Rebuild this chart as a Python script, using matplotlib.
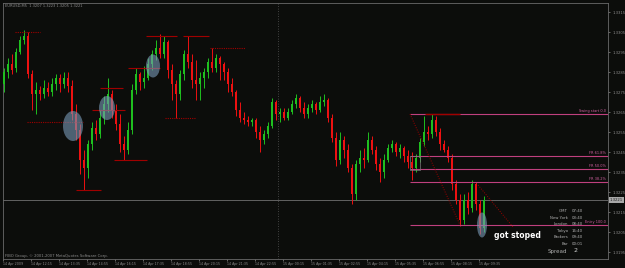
#EURUSD M5 chart with fibo levels

import matplotlib
matplotlib.use("Agg")
from matplotlib import pyplot as plt
from matplotlib.patches import Ellipse, Rectangle
import numpy as np

opens = [1.3279, 1.3285, 1.3289, 1.3287, 1.3295, 1.3301, 1.3303, 1.3284, 1.3274, 1.3276,
         1.3274, 1.3277, 1.3275, 1.3279, 1.3282, 1.3279, 1.3282, 1.3278, 1.3264, 1.3256,
         1.3241, 1.3237, 1.3249, 1.3257, 1.3254, 1.3262, 1.3269, 1.3274, 1.3266, 1.3259,
         1.3249, 1.3246, 1.3256, 1.3276, 1.3284, 1.3280, 1.3282, 1.3289, 1.3294, 1.3297,
         1.3294, 1.3300, 1.3286, 1.3279, 1.3274, 1.3284, 1.3294, 1.3290, 1.3281, 1.3279,
         1.3282, 1.3285, 1.3290, 1.3287, 1.3292, 1.3289, 1.3285, 1.3279, 1.3275, 1.3266,
         1.3262, 1.3261, 1.3260, 1.3261, 1.3255, 1.3251, 1.3254, 1.3258, 1.3270, 1.3264,
         1.3265, 1.3262, 1.3265, 1.3269, 1.3272, 1.3267, 1.3264, 1.3267, 1.3269, 1.3266,
         1.3270, 1.3271, 1.3262, 1.3252, 1.3241, 1.3251, 1.3246, 1.3237, 1.3224, 1.3239,
         1.3242, 1.3241, 1.3251, 1.3246, 1.3239, 1.3235, 1.3241, 1.3247, 1.3249, 1.3245,
         1.3247, 1.3243, 1.3240, 1.3237, 1.3242, 1.3250, 1.3255, 1.3254, 1.3261, 1.3255,
         1.3249, 1.3246, 1.3242, 1.3229, 1.3221, 1.3211, 1.3221, 1.3217, 1.3229, 1.3219,
         1.3207]
highs = [1.3287, 1.3292, 1.3294, 1.3297, 1.3303, 1.3306, 1.3305, 1.3286, 1.3280, 1.3278,
         1.3281, 1.3280, 1.3282, 1.3284, 1.3284, 1.3285, 1.3285, 1.3281, 1.3269, 1.3259,
         1.3246, 1.3251, 1.3260, 1.3261, 1.3266, 1.3273, 1.3282, 1.3276, 1.3269, 1.3264,
         1.3253, 1.3260, 1.3279, 1.3287, 1.3285, 1.3288, 1.3292, 1.3296, 1.3301, 1.3304,
         1.3303, 1.3301, 1.3289, 1.3281, 1.3286, 1.3296, 1.3303, 1.3294, 1.3291, 1.3285,
         1.3287, 1.3292, 1.3297, 1.3294, 1.3293, 1.3290, 1.3287, 1.3282, 1.3276, 1.3270,
         1.3265, 1.3263, 1.3262, 1.3262, 1.3258, 1.3256, 1.3260, 1.3272, 1.3271, 1.3267,
         1.3267, 1.3267, 1.3271, 1.3274, 1.3273, 1.3270, 1.3269, 1.3271, 1.3270, 1.3273,
         1.3274, 1.3272, 1.3264, 1.3255, 1.3255, 1.3253, 1.3249, 1.3239, 1.3241, 1.3246,
         1.3247, 1.3255, 1.3253, 1.3248, 1.3242, 1.3244, 1.3249, 1.3251, 1.3250, 1.3249,
         1.3248, 1.3246, 1.3245, 1.3244, 1.3252, 1.3263, 1.3258, 1.3264, 1.3263, 1.3257,
         1.3251, 1.3248, 1.3244, 1.3231, 1.3224, 1.3224, 1.3225, 1.3231, 1.3230, 1.3221,
         1.3223]
lows = [1.3275, 1.3282, 1.3284, 1.3285, 1.3294, 1.3299, 1.3282, 1.3266, 1.3264, 1.3271,
        1.3272, 1.3273, 1.3273, 1.3276, 1.3275, 1.3277, 1.3275, 1.3261, 1.3251, 1.3234,
        1.3226, 1.3232, 1.3246, 1.3251, 1.3252, 1.3259, 1.3265, 1.3262, 1.3256, 1.3245,
        1.3241, 1.3244, 1.3254, 1.3274, 1.3276, 1.3277, 1.3281, 1.3286, 1.3291, 1.3292,
        1.3292, 1.3282, 1.3271, 1.3262, 1.3271, 1.3281, 1.3287, 1.3277, 1.3271, 1.3271,
        1.3277, 1.3282, 1.3285, 1.3285, 1.3281, 1.3281, 1.3275, 1.3273, 1.3263, 1.3260,
        1.3259, 1.3258, 1.3258, 1.3252, 1.3245, 1.3249, 1.3252, 1.3257, 1.3261, 1.3260,
        1.3261, 1.3261, 1.3264, 1.3267, 1.3265, 1.3262, 1.3262, 1.3265, 1.3264, 1.3265,
        1.3268, 1.3260, 1.3250, 1.3238, 1.3239, 1.3242, 1.3235, 1.3219, 1.3221, 1.3235,
        1.3237, 1.3240, 1.3244, 1.3236, 1.3230, 1.3232, 1.3240, 1.3245, 1.3243, 1.3242,
        1.3240, 1.3237, 1.3231, 1.3235, 1.3240, 1.3248, 1.3251, 1.3252, 1.3253, 1.3246,
        1.3245, 1.3240, 1.3226, 1.3219, 1.3208, 1.3209, 1.3214, 1.3215, 1.3216, 1.3204,
        1.3205]
closes = [1.3285, 1.3289, 1.3286, 1.3295, 1.3301, 1.3303, 1.3284, 1.3274, 1.3276, 1.3274,
          1.3277, 1.3275, 1.3279, 1.3282, 1.3279, 1.3282, 1.3278, 1.3264, 1.3256, 1.3241,
          1.3237, 1.3249, 1.3257, 1.3254, 1.3262, 1.3269, 1.3274, 1.3266, 1.3259, 1.3249,
          1.3246, 1.3256, 1.3276, 1.3284, 1.3280, 1.3282, 1.3289, 1.3294, 1.3297, 1.3294,
          1.3300, 1.3286, 1.3279, 1.3274, 1.3284, 1.3294, 1.3290, 1.3281, 1.3279, 1.3282,
          1.3285, 1.3290, 1.3287, 1.3292, 1.3289, 1.3285, 1.3279, 1.3275, 1.3266, 1.3262,
          1.3261, 1.3260, 1.3261, 1.3255, 1.3251, 1.3254, 1.3258, 1.3270, 1.3264, 1.3265,
          1.3262, 1.3265, 1.3269, 1.3272, 1.3267, 1.3264, 1.3267, 1.3269, 1.3266, 1.3270,
          1.3271, 1.3262, 1.3252, 1.3241, 1.3251, 1.3246, 1.3237, 1.3224, 1.3239, 1.3242,
          1.3241, 1.3251, 1.3246, 1.3239, 1.3235, 1.3241, 1.3247, 1.3249, 1.3245, 1.3247,
          1.3243, 1.3240, 1.3237, 1.3242, 1.3250, 1.3255, 1.3254, 1.3261, 1.3255, 1.3249,
          1.3246, 1.3242, 1.3229, 1.3221, 1.3211, 1.3221, 1.3217, 1.3229, 1.3219, 1.3207,
          1.3221]

time_labels = ["14 Apr 2009", "14 Apr 12:15", "14 Apr 13:35", "14 Apr 14:55", "14 Apr 16:15",
               "14 Apr 17:35", "14 Apr 18:55", "14 Apr 20:15", "14 Apr 21:35", "14 Apr 22:55",
               "15 Apr 00:15", "15 Apr 01:35", "15 Apr 02:55", "15 Apr 04:15", "15 Apr 05:35",
               "15 Apr 06:55", "15 Apr 08:15", "15 Apr 09:35"]
time_ticks = [-0.25, 6.75, 13.75, 20.75, 27.75, 34.75, 41.75, 48.75, 55.75, 62.75,
              69.75, 76.75, 83.75, 90.75, 97.75, 104.75, 111.75, 118.75]
price_ticks = [1.3315, 1.3305, 1.3295, 1.3285, 1.3275, 1.3265, 1.3255,
               1.3245, 1.3235, 1.3225, 1.3215, 1.3205, 1.3195]

# support / resistance lines drawn by hand (level, start bar, end bar)
solid_levels = [1.3226, 1.3266, 1.3277, 1.3241, 1.3287, 1.3303, 1.3303]
solid_start = [18, 22, 24, 27.5, 31, 35.5, 44.75]
solid_end = [24.25, 30.25, 29.75, 35.75, 39, 43.25, 51.25]
dotted_levels = [1.3305, 1.3260, 1.3262, 1.3297]
dotted_start = [2.75, 5.75, 40.25, 51.5]
dotted_end = [9, 19.75, 47.75, 60.25]

# fibo retracement
fib_names = ["Swing start 0.0", "FR 61.8%", "FR 50.0%", "FR 38.2%", "Entry 100.0"]
fib_prices = [1.3264, 1.3243, 1.32365, 1.3230, 1.32085]

# highlighted spots (bar, price, width in bars, height in price)
spot_x = [17.25, 25.75, 37.25, 119.5]
spot_y = [1.3258, 1.3267, 1.3288, 1.32085]
spot_w = [5, 4, 3.5, 2.5]
spot_h = [0.0015, 0.0012, 0.00115, 0.00125]

info_names = ["GMT", "New York", "London", "Tokyo", "Brokers", "Bar"]
info_times = ["07:40", "03:40", "08:40", "16:40", "09:40", "00:01"]
spread = 2

BG = "#0c0d0b"
GRAY = "#8c8c8c"
BULL = "#1fbf1f"
BEAR = "#ee1111"
LEVEL = "#a00000"
FIB = "#c0407e"

fig = plt.figure(figsize=(6.25, 2.68), dpi=100, facecolor=BG)
ax = fig.add_axes([3 / 625, 9 / 268, 605 / 625, 256 / 268])
ax.set_facecolor(BG)

o = np.array(opens)
h = np.array(highs)
l = np.array(lows)
c = np.array(closes)
x = np.arange(len(c))
col = np.where(c >= o, BULL, BEAR)

ax.vlines(x, l, h, colors=col, linewidth=0.7, zorder=3)
ax.bar(x, np.maximum(np.abs(c - o), 0.00004), bottom=np.minimum(o, c), width=0.45,
       color=col, linewidth=0, zorder=3)

# day separator and bid line
ax.axvline(68.5, color="#555555", linestyle=(0, (1, 2)), linewidth=0.6, zorder=1)
ax.axhline(c[-1], color="#707070", linewidth=0.6, zorder=2)

ax.hlines(solid_levels, solid_start, solid_end, colors=LEVEL, linewidth=0.8, zorder=4)
ax.hlines(dotted_levels, dotted_start, dotted_end, colors=LEVEL, linewidth=0.8,
          linestyles=(0, (1, 1)), zorder=4)

ax.hlines(fib_prices, 101.5, 151, colors=FIB, linewidth=0.8, zorder=4)
for name, p in zip(fib_names, fib_prices):
    ax.text(150.5, p + 0.00003, name, ha="right", va="bottom", fontsize=2.5, color="#d060a0", zorder=6)
ax.hlines(fib_prices[0], 105.25, 114, colors=LEVEL, linewidth=1.0, zorder=5)
ax.plot([101.5, 114], [fib_prices[0], fib_prices[-1]], color=LEVEL, linestyle=(0, (1, 1.5)),
        linewidth=0.7, zorder=4)
ax.plot([118.5, 127.25], [1.32285, 1.32075], color=LEVEL, linestyle=(0, (1, 1.5)),
        linewidth=0.7, zorder=4)
ax.add_patch(Rectangle((101.5, 1.3236), 2.5, 0.0007, fill=False, edgecolor="#7a7a7a",
                       linewidth=0.5, zorder=4))

for sx, sy, sw, sh in zip(spot_x, spot_y, spot_w, spot_h):
    ax.add_patch(Ellipse((sx, sy), sw, sh, facecolor="#7a9ab8", edgecolor="none", alpha=0.6, zorder=5))

ax.set_xlim(-0.25, 151)
ax.set_ylim(1.31915, 1.33195)

ax.yaxis.tick_right()
ax.set_yticks(price_ticks)
ax.set_yticklabels(["%.4f" % p for p in price_ticks])
ax.set_xticks(time_ticks)
ax.set_xticklabels(time_labels)
for lbl in ax.get_xticklabels():
    lbl.set_horizontalalignment("left")
ax.tick_params(axis="y", colors=GRAY, labelsize=2.7, length=1.5, width=0.5, pad=1.5)
ax.tick_params(axis="x", colors=GRAY, labelsize=2.3, length=1.5, width=0.5, pad=1)
for s in ax.spines.values():
    s.set_color("#6a6a6a")
    s.set_linewidth(0.6)

# current price box
ax.text(1.003, c[-1], "%.4f" % c[-1], transform=ax.get_yaxis_transform(), ha="left", va="center",
        fontsize=2.7, color="#202020", bbox=dict(boxstyle="square,pad=0.3", facecolor="#a8a8a8",
                                                  edgecolor="none"), zorder=7)

ax.text(0.003, 0.997, "EURUSD,M5  %.4f %.4f %.4f %.4f" % (o[-1], h[-1], l[-1], c[-1]),
        transform=ax.transAxes, ha="left", va="top", fontsize=2.6, color=GRAY)
ax.text(0.003, 0.013, "FIBO Group, \u00a9 2001-2007 MetaQuotes Software Corp.",
        transform=ax.transAxes, ha="left", va="center", fontsize=2.7, color=GRAY)

# session clock panel
for k, (name, t) in enumerate(zip(info_names, info_times)):
    yy = 1 - (211 + 6.6 * k) / 268
    fig.text(568 / 625, yy, name, ha="right", va="center", fontsize=2.8, color="#b0b0b0")
    fig.text(572 / 625, yy, t, ha="left", va="center", fontsize=2.8, color="#b0b0b0")
fig.text(567 / 625, 1 - 251 / 268, "Spread", ha="right", va="center", fontsize=4, color="#b0b0b0")
fig.text(574 / 625, 1 - 250 / 268, str(spread), ha="left", va="center", fontsize=4.5, color="#d0d0d0")

fig.text(517 / 625, 1 - 235 / 268, "got stoped", ha="center", va="center", fontsize=5.5,
         fontweight="bold", color="white")

fig.savefig("out.png", dpi=100, facecolor=BG)
